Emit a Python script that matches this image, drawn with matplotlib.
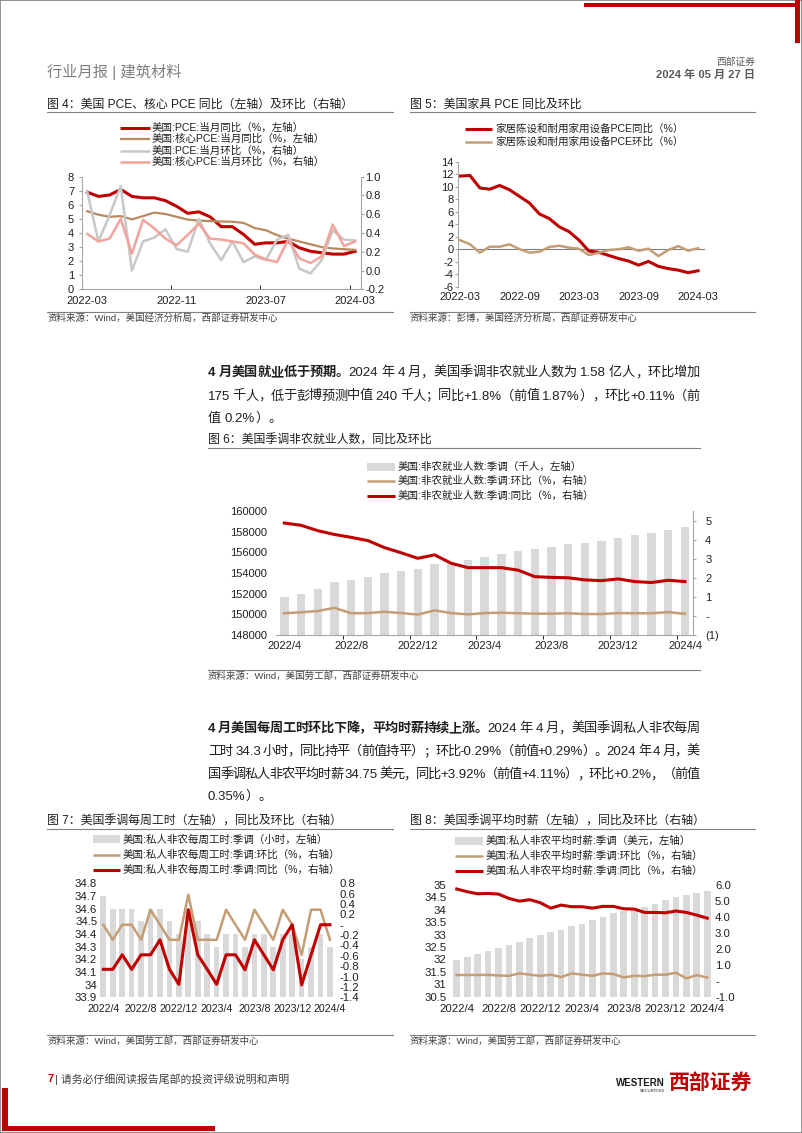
import re
import numpy as np
import matplotlib
matplotlib.use('Agg')
import matplotlib.pyplot as plt
from matplotlib.lines import Line2D
from matplotlib.patches import Rectangle

plt.rcParams['font.family'] = ['Liberation Sans', 'Noto Sans CJK SC']
plt.rcParams['axes.unicode_minus'] = False

W, H = 802, 1133
RED = '#C00000'
BROWN = '#B98A5E'
TAN = '#C49D74'
LGRAY = '#C8C8C8'
PINK = '#F2A39C'
BARC = '#D9D9D9'
AXC = '#A6A6A6'
TXT = '#1F1F1F'

# ---- 图4: PCE (2022-03 .. 2024-03) ----
pce_labels = ['2022-03', '2022-11', '2023-07', '2024-03']
pce_yoy = [6.9, 6.6, 6.7, 7.1, 6.6, 6.5, 6.5, 6.3, 5.9, 5.4, 5.5, 5.15, 4.45, 4.45, 3.9,
           3.2, 3.3, 3.3, 3.4, 2.95, 2.7, 2.6, 2.5, 2.5, 2.7]
core_yoy = [5.55, 5.3, 5.15, 5.2, 4.97, 5.2, 5.45, 5.35, 5.15, 4.95, 4.88, 4.85, 4.82, 4.8, 4.72,
            4.35, 4.2, 3.85, 3.6, 3.4, 3.2, 3.0, 2.9, 2.85, 2.8]
pce_mom = [0.84, 0.31, 0.59, 0.9, 0.0, 0.31, 0.35, 0.44, 0.23, 0.2, 0.55, 0.29, 0.11, 0.31, 0.09,
           0.15, 0.11, 0.33, 0.38, 0.02, -0.03, 0.11, 0.43, 0.33, 0.32]
core_mom = [0.39, 0.31, 0.34, 0.55, 0.18, 0.54, 0.45, 0.34, 0.27, 0.38, 0.5, 0.34, 0.33, 0.31, 0.29,
            0.17, 0.12, 0.09, 0.33, 0.13, 0.08, 0.15, 0.49, 0.26, 0.31]

# ---- 图5: 家具 PCE ----
furn_labels = ['2022-03', '2022-09', '2023-03', '2023-09', '2024-03']
furn_yoy = [11.7, 11.8, 9.8, 9.6, 10.2, 9.5, 8.45, 7.4, 5.65, 4.9, 3.6, 2.8, 1.45, -0.3, -0.5,
            -1.0, -1.5, -1.9, -2.55, -1.95, -2.75, -3.1, -3.35, -3.75, -3.45]
furn_mom = [1.45, 0.8, -0.55, 0.4, 0.4, 0.78, 0.0, -0.55, -0.4, 0.35, 0.56, 0.24, 0.08, -0.94, -0.56,
            -0.13, 0.0, 0.3, -0.24, 0.08, -1.1, -0.13, 0.5, -0.24, 0.15]

# ---- 图6-8: 2022/4 .. 2024/4 ----
m_labels = ['2022/4', '2022/8', '2022/12', '2023/4', '2023/8', '2023/12', '2024/4']
payrolls = [151710, 151968, 152419, 153097, 153323, 153613, 154000, 154226, 154355, 154839,
            154935, 155290, 155580, 155840, 156100, 156290, 156516, 156774, 156900, 157065,
            157387, 157677, 157870, 158194, 158419]
nfp_yoy = [4.87, 4.75, 4.47, 4.27, 4.12, 3.95, 3.58, 3.31, 3.02, 3.2, 2.76, 2.53, 2.53, 2.53, 2.4,
           2.06, 2.02, 2.0, 1.89, 1.85, 1.94, 1.8, 1.75, 1.87, 1.8]
nfp_mom = [0.14, 0.19, 0.26, 0.42, 0.14, 0.15, 0.22, 0.15, 0.07, 0.29, 0.15, 0.08, 0.15, 0.17, 0.14,
           0.12, 0.12, 0.14, 0.1, 0.1, 0.15, 0.14, 0.14, 0.2, 0.11]

hours = [34.7, 34.6, 34.6, 34.6, 34.5, 34.6, 34.6, 34.5, 34.4, 34.6, 34.5, 34.4, 34.3, 34.4, 34.4,
         34.3, 34.4, 34.4, 34.3, 34.4, 34.4, 34.2, 34.3, 34.4, 34.3]
hours_yoy = [-0.86, -0.86, -0.58, -0.86, -0.58, -0.58, -0.29, -0.86, -1.15, 0.29, -0.58, -0.86, -1.15,
             -0.58, -0.58, -0.87, -0.29, -0.58, -0.87, -0.29, 0.0, -1.16, -0.58, 0.0, 0.0]
hours_mom = [0.0, -0.29, 0.0, 0.0, -0.29, 0.29, 0.0, -0.29, -0.29, 0.58, -0.29, -0.29, -0.29, 0.29,
             0.0, -0.29, 0.29, 0.0, -0.29, 0.29, 0.0, -0.58, 0.29, 0.29, -0.29]

wage = [31.98, 32.11, 32.24, 32.35, 32.47, 32.58, 32.72, 32.85, 32.97, 33.09, 33.19, 33.33, 33.44,
        33.59, 33.72, 33.86, 33.97, 34.06, 34.13, 34.25, 34.4, 34.53, 34.58, 34.69, 34.75]
wage_yoy = [5.75, 5.58, 5.45, 5.47, 5.43, 5.16, 4.99, 5.08, 4.89, 4.55, 4.74, 4.64, 4.64, 4.55, 4.66,
            4.66, 4.51, 4.49, 4.28, 4.28, 4.26, 4.37, 4.28, 4.11, 3.92]
wage_mom = [0.36, 0.36, 0.36, 0.37, 0.33, 0.31, 0.46, 0.38, 0.31, 0.38, 0.23, 0.46, 0.38, 0.31, 0.46,
            0.42, 0.21, 0.31, 0.29, 0.38, 0.38, 0.5, 0.15, 0.35, 0.2]

fig = plt.figure(figsize=(W / 100, H / 100), dpi=100)
renderer = fig.canvas.get_renderer()


def box(x0, y0, x1, y1):
    # page pixels (origin top-left) -> figure fraction rect
    return [x0 / W, 1 - y1 / H, (x1 - x0) / W, (y1 - y0) / H]


def put(x, y, s, **kw):
    kw.setdefault('va', 'center')
    kw.setdefault('color', TXT)
    return fig.text(x / W, 1 - y / H, s, **kw)


def hline(x0, x1, y, color='#808080', lw=0.8):
    fig.add_artist(Line2D([x0 / W, x1 / W], [1 - y / H] * 2, color=color, lw=lw))


def block(x0, y0, x1, y1, color):
    fig.add_artist(Rectangle((x0 / W, 1 - y1 / H), (x1 - x0) / W, (y1 - y0) / H, color=color, lw=0))


def ink_w(s, size):
    t = fig.text(0, 0, s, fontsize=size)
    v = t.get_window_extent(renderer).width
    t.remove()
    return v


def body_line(x0, y, text, nbold=0, x1=None, size=9.5):
    # justified line, drawn token by token on a common baseline
    toks = re.findall(r'[0-9A-Za-z.+\-%]+|.', text)
    gap = 0 if x1 is None else (x1 - x0 - ink_w(text, size)) / (len(toks) - 1)
    pre = ''
    for i, t in enumerate(toks):
        pre += t
        if t.strip():
            x = x0 + ink_w(pre, size) - ink_w(t, size) + i * gap
            put(x, y, t, fontsize=size, va='baseline',
                fontweight='bold' if len(pre) <= nbold else 'normal')


def legend_rows(x0, x1, tx, ys, items, size=7.6):
    for y, (kind, color, lw, label) in zip(ys, items):
        yf = 1 - y / H
        if kind == 'bar':
            fig.add_artist(Rectangle((x0 / W, yf - 4 / H), (x1 - x0) / W, 8 / H, color=color, lw=0))
        else:
            fig.add_artist(Line2D([x0 / W, x1 / W], [yf, yf], color=color, lw=lw, solid_capstyle='butt'))
        put(tx, y, label, fontsize=size)


def caption(x0, x1, y, title, size=8.6):
    put(x0, y, title, fontsize=size)
    hline(x0, x1, y + 7)


def source(x0, x1, y, text):
    hline(x0, x1, y - 6.5)
    put(x0, y, text, fontsize=6.8, color='#404040')


def clean(ax, keep=(), size=8):
    for s in ax.spines:
        ax.spines[s].set_visible(s in keep)
        ax.spines[s].set_color(AXC)
    ax.tick_params(labelsize=size, labelcolor=TXT, color=AXC)


# ---------- page decoration ----------
fig.add_artist(Rectangle((0, 0), 1, 1, transform=fig.transFigure, fill=False, ec='#7F7F7F', lw=1.2))
block(584, 2.5, 800, 6.5, RED)
block(795, 0, 800, 43, RED)
block(2, 1088, 7.5, 1131, RED)
block(2, 1126, 215, 1131, RED)
put(47, 72, '行业月报 | 建筑材料', fontsize=11, color='#7F7F7F')
put(755, 62, '西部证券', fontsize=7, color='#595959', ha='right')
put(755, 75, '2024 年 05 月 27 日', fontsize=8, color='#595959', ha='right', fontweight='bold')

# ---------- 图4 ----------
caption(47, 393, 105, '图 4：美国 PCE、核心 PCE 同比（左轴）及环比（右轴）')
legend_rows(120, 150, 152, [127.5, 139, 150.5, 162], [
    ('line', RED, 2.2, '美国:PCE:当月同比（%，左轴）'),
    ('line', BROWN, 1.6, '美国:核心PCE:当月同比（%，左轴）'),
    ('line', LGRAY, 1.8, '美国:PCE:当月环比（%，右轴）'),
    ('line', PINK, 1.8, '美国:核心PCE:当月环比（%，右轴）')])
ax = fig.add_axes(box(81.7, 176.7, 360.7, 289.3))
x = np.arange(len(pce_yoy))
ax.plot(x, pce_yoy, color=RED, lw=2.2)
ax.plot(x, core_yoy, color=BROWN, lw=1.6)
ax.set_xlim(-0.5, len(x) - 0.5)
ax.set_ylim(0, 8)
ax.set_yticks(range(0, 9))
ax.set_xticks(x[::8], pce_labels)
ax.set_xticks([7.5, 15.5, 23.5], minor=True)
clean(ax, ('left', 'bottom'))
ax.tick_params(axis='x', which='major', length=0, pad=5)
ax.tick_params(axis='x', which='minor', length=3, direction='in')
ax.tick_params(axis='y', length=2, pad=3.5)
ax2 = ax.twinx()
ax2.plot(x, pce_mom, color=LGRAY, lw=1.8)
ax2.plot(x, core_mom, color=PINK, lw=1.8)
ax2.set_ylim(-0.2, 1.0)
ax2.set_yticks(np.arange(-0.2, 1.01, 0.2), ['-0.2', '0.0', '0.2', '0.4', '0.6', '0.8', '1.0'])
clean(ax2, ('right',))
ax2.tick_params(axis='y', length=2, pad=1.5)
source(47, 393, 318.5, '资料来源：Wind，美国经济分析局，西部证券研发中心')

# ---------- 图5 ----------
caption(410, 755, 105, '图 5：美国家具 PCE 同比及环比')
legend_rows(465, 492, 495, [129, 141.7], [
    ('line', RED, 2.2, '家居陈设和耐用家用设备PCE同比（%）'),
    ('line', TAN, 1.8, '家居陈设和耐用家用设备PCE环比（%）')])
ax = fig.add_axes(box(458, 161.7, 705, 286.7))
x = np.arange(len(furn_yoy))
ax.axhline(0, color='#7F7F7F', lw=0.8)
ax.plot(x, furn_yoy, color=RED, lw=2.2)
ax.plot(x, furn_mom, color=TAN, lw=1.8)
ax.set_xlim(-0.2, 24.7)
ax.set_ylim(-6, 14)
ax.set_yticks(range(-6, 15, 2))
ax.set_xticks(x[::6], furn_labels)
clean(ax, ('left',))
ax.tick_params(axis='x', length=0, pad=3.5)
ax.tick_params(axis='y', length=2, pad=1)
source(410, 755, 318.5, '资料来源：彭博，美国经济分析局，西部证券研发中心')

# ---------- 正文 1 ----------
p1 = ['4 月美国就业低于预期。2024 年 4 月，美国季调非农就业人数为 1.58 亿人，环比增加',
      '175 千人，低于彭博预测中值 240 千人；同比+1.8%（前值 1.87%），环比+0.11%（前',
      '值 0.2%）。']
body_line(208, 376, p1[0], nbold=len('4 月美国就业低于预期。'), x1=700)
body_line(208, 399.5, p1[1], x1=700)
body_line(208, 422, p1[2])

# ---------- 图6 ----------
caption(208, 700, 441, '图 6：美国季调非农就业人数，同比及环比')
legend_rows(367, 395, 398, [466.7, 481, 495.7], [
    ('bar', BARC, 0, '美国:非农就业人数:季调（千人，左轴）'),
    ('line', TAN, 1.8, '美国:非农就业人数:季调:环比（%，右轴）'),
    ('line', RED, 2.2, '美国:非农就业人数:季调:同比（%，右轴）')])
ax = fig.add_axes(box(276, 511, 693.3, 635))
x = np.arange(len(payrolls))
ax.bar(x, payrolls, width=0.5, color=BARC)
ax.set_xlim(-0.5, len(x) - 0.5)
ax.set_ylim(148000, 160000)
ax.set_yticks(range(148000, 160001, 2000))
ax.set_xticks(x[::4], m_labels)
ax.set_xticks(np.arange(3.5, 24, 4), minor=True)
clean(ax, ('bottom',))
ax.tick_params(axis='x', which='major', length=0, pad=4.5)
ax.tick_params(axis='x', which='minor', length=3)
ax.tick_params(axis='y', length=0, pad=6.5)
ax2 = ax.twinx()
ax2.plot(x, nfp_mom, color=TAN, lw=1.8)
ax2.plot(x, nfp_yoy, color=RED, lw=2.2)
ax2.set_ylim(-1, 5.5)
ax2.set_yticks(range(-1, 6), ['(1)', '-', '1', '2', '3', '4', '5'])
clean(ax2, ('right',))
ax2.tick_params(axis='y', length=2.5, pad=6)
source(208, 700, 676, '资料来源：Wind，美国劳工部，西部证券研发中心')

# ---------- 正文 2 ----------
p2 = ['4 月美国每周工时环比下降，平均时薪持续上涨。2024 年 4 月，美国季调私人非农每周',
      '工时 34.3 小时，同比持平（前值持平）；环比-0.29%（前值+0.29%）。2024 年 4 月，美',
      '国季调私人非农平均时薪 34.75 美元，同比+3.92%（前值+4.11%），环比+0.2%，（前值',
      '0.35%）。']
body_line(208, 732, p2[0], nbold=len('4 月美国每周工时环比下降，平均时薪持续上涨。'), x1=700)
body_line(208, 755, p2[1], x1=700)
body_line(208, 778, p2[2], x1=700)
body_line(208, 800, p2[3])

# ---------- 图7 ----------
caption(47, 393, 821.5, '图 7：美国季调每周工时（左轴），同比及环比（右轴）')
legend_rows(93, 120, 123, [839.3, 854.5, 870], [
    ('bar', BARC, 0, '美国:私人非农每周工时:季调（小时，左轴）'),
    ('line', TAN, 1.8, '美国:私人非农每周工时:季调:环比（%，右轴）'),
    ('line', RED, 2.2, '美国:私人非农每周工时:季调:同比（%，右轴）')])
ax = fig.add_axes(box(98.6, 883.3, 334.7, 997.3))
x = np.arange(len(hours))
ax.bar(x, hours, width=0.6, color=BARC)
ax.set_xlim(-0.5, len(x) - 0.5)
ax.set_ylim(33.9, 34.8)
ax.set_yticks(np.arange(33.9, 34.81, 0.1),
              ['33.9', '34', '34.1', '34.2', '34.3', '34.4', '34.5', '34.6', '34.7', '34.8'])
ax.set_xticks(x[::4], m_labels)
clean(ax, size=8.2)
ax.tick_params(axis='x', length=0, pad=5, labelsize=7.7)
ax.tick_params(axis='y', length=0, pad=1)
ax2 = ax.twinx()
ax2.plot(x, hours_mom, color=TAN, lw=1.8)
ax2.plot(x, hours_yoy, color=RED, lw=2.2)
ax2.set_ylim(-1.4, 0.8)
ax2.set_yticks(np.arange(-1.4, 0.81, 0.2),
               ['-1.4', '-1.2', '-1.0', '-0.8', '-0.6', '-0.4', '-0.2', '-', '0.2', '0.4', '0.6', '0.8'])
clean(ax2, size=8.2)
ax2.tick_params(axis='y', length=0, pad=3.8)
source(47, 393, 1041, '资料来源：Wind，美国劳工部，西部证券研发中心')

# ---------- 图8 ----------
caption(410, 755, 821.5, '图 8：美国季调平均时薪（左轴），同比及环比（右轴）')
legend_rows(455, 483, 486, [840.7, 855.5, 871], [
    ('bar', BARC, 0, '美国:私人非农平均时薪:季调（美元，左轴）'),
    ('line', TAN, 1.8, '美国:私人非农平均时薪:季调:环比（%，右轴）'),
    ('line', RED, 2.2, '美国:私人非农平均时薪:季调:同比（%，右轴）')])
ax = fig.add_axes(box(451.5, 885, 712.5, 996.7))
x = np.arange(len(wage))
ax.bar(x, wage, width=0.64, color=BARC)
ax.set_xlim(-0.5, len(x) - 0.5)
ax.set_ylim(30.5, 35)
ax.set_yticks(np.arange(30.5, 35.01, 0.5),
              ['30.5', '31', '31.5', '32', '32.5', '33', '33.5', '34', '34.5', '35'])
ax.set_xticks(x[::4], m_labels)
clean(ax, size=8.2)
ax.tick_params(axis='x', length=0, pad=5.4)
ax.tick_params(axis='y', length=0, pad=3.5)
ax2 = ax.twinx()
ax2.plot(x, wage_mom, color=TAN, lw=1.8)
ax2.plot(x, wage_yoy, color=RED, lw=2.2)
ax2.set_ylim(-1, 6)
ax2.set_yticks(range(-1, 7), ['-1.0', '-', '1.0', '2.0', '3.0', '4.0', '5.0', '6.0'])
clean(ax2, size=8.2)
ax2.tick_params(axis='y', length=0, pad=1.8)
source(410, 755, 1041, '资料来源：Wind，美国劳工部，西部证券研发中心')

# ---------- footer ----------
put(47, 1079, '7', fontsize=7.8, color=RED, fontweight='bold')
put(55, 1079, '| 请务必仔细阅读报告尾部的投资评级说明和声明', fontsize=7.8, color='#404040')
put(752, 1083, '西部证券', fontsize=15, color=RED, fontweight='bold', ha='right')
put(665, 1083, 'WESTERN', fontsize=7, color='#1A1A1A', fontweight='bold', ha='right')
put(665, 1091, 'SECURITIES', fontsize=3, color='#1A1A1A', ha='right')

fig.savefig('out.png', dpi=100)
